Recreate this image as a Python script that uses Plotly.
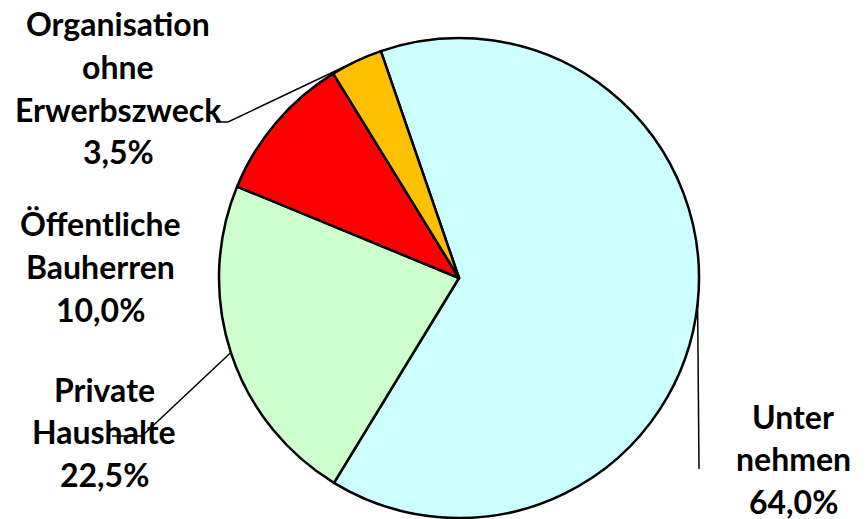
import math
import plotly.graph_objects as go

# data
categories = ["Unternehmen", "Private Haushalte", "Öffentliche Bauherren",
              "Organisation ohne Erwerbszweck"]
shares = [64.0, 22.5, 10.0, 3.5]
label_lines = [["Unter", "nehmen"], ["Private", "Haushalte"],
               ["Öffentliche", "Bauherren"], ["Organisation", "ohne", "Erwerbszweck"]]
colors = ["#CCFFFF", "#CCFFCC", "#FF0000", "#FFC000"]

W, H = 868, 519
cx, cy, R = 459, 278, 240
start_angle = -19  # first slice starts 19 deg left of 12 o'clock, clockwise

# label block: centre x, first line y (pixels)
label_pos = [(793, 416), (104, 389), (100, 224), (118, 24)]
line_gap = 42.5
# leader elbows (pixels) after the slice midpoint
leader_paths = [[(699, 469)], [(142, 436), (112, 436)], [], [(228, 122), (216, 122)]]


def px(x, y):
    return x / W, 1 - y / H


fig = go.Figure(go.Pie(
    labels=categories, values=shares, sort=False, direction="clockwise",
    rotation=start_angle, textinfo="none", hoverinfo="label+percent",
    marker=dict(colors=colors, line=dict(color="black", width=2.5)),
    domain=dict(x=[(cx - R) / W, (cx + R) / W], y=[(H - cy - R) / H, (H - cy + R) / H]),
    showlegend=False,
))

annotations = []
shapes = []
total = sum(shares)
acc = 0.0
for name, val, lines, (lx, ly), path in zip(categories, shares, label_lines,
                                            label_pos, leader_paths):
    mid = math.radians(start_angle + 360 * (acc + val / 2) / total)
    acc += val
    txt = lines + [f"{val:.1f}".replace(".", ",") + "%"]
    for i, t in enumerate(txt):
        x, y = px(lx, ly + i * line_gap)
        annotations.append(dict(x=x, y=y, xref="paper", yref="paper", text=f"<b>{t}</b>",
                                showarrow=False, xanchor="center", yanchor="middle",
                                font=dict(family="Lato", size=32, color="black")))
    if path:
        pts = [(cx + R * math.sin(mid), cy - R * math.cos(mid))] + path
        d = "M " + " L ".join(f"{px(a, b)[0]},{px(a, b)[1]}" for a, b in pts)
        shapes.append(dict(type="path", xref="paper", yref="paper", path=d,
                           line=dict(color="black", width=1.5)))

fig.update_layout(
    width=W, height=H, margin=dict(l=0, r=0, t=0, b=0),
    paper_bgcolor="white", plot_bgcolor="white",
    annotations=annotations, shapes=shapes,
)
# page body has an 8px default margin; drop it so the figure fills the window
fig.write_html("out.html", config={"displayModeBar": False},
               post_script="document.body.style.margin='0';"
                           "document.body.style.overflow='hidden';")
